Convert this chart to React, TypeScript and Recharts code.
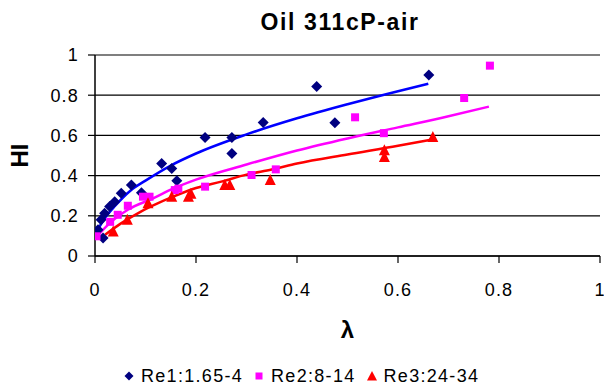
import React from 'react';
import {
  ComposedChart,
  Scatter,
  Line,
  XAxis,
  YAxis,
  CartesianGrid,
  Legend,
} from 'recharts';

const FONT = '"Liberation Sans", Arial, sans-serif';

const xTicks = [0, 0.2, 0.4, 0.6, 0.8, 1];
const yTicks = [0, 0.2, 0.4, 0.6, 0.8, 1];

// Re1:1.65-4 measured points
const re1Points = [
  { x: 0.006, y: 0.131 }, { x: 0.016, y: 0.09 }, { x: 0.012, y: 0.18 },
  { x: 0.019, y: 0.213 }, { x: 0.029, y: 0.246 }, { x: 0.039, y: 0.27 },
  { x: 0.052, y: 0.312 }, { x: 0.072, y: 0.353 }, { x: 0.092, y: 0.315 },
  { x: 0.132, y: 0.46 }, { x: 0.152, y: 0.435 }, { x: 0.162, y: 0.374 },
  { x: 0.218, y: 0.59 }, { x: 0.271, y: 0.59 }, { x: 0.271, y: 0.51 },
  { x: 0.333, y: 0.664 }, { x: 0.439, y: 0.843 }, { x: 0.475, y: 0.663 },
  { x: 0.661, y: 0.9 },
];

// Re2:8-14 measured points
const re2Points = [
  { x: 0.003, y: 0.098 }, { x: 0.03, y: 0.17 }, { x: 0.045, y: 0.205 },
  { x: 0.065, y: 0.25 }, { x: 0.095, y: 0.295 }, { x: 0.108, y: 0.295 },
  { x: 0.158, y: 0.328 }, { x: 0.165, y: 0.335 }, { x: 0.218, y: 0.345 },
  { x: 0.31, y: 0.403 }, { x: 0.358, y: 0.431 }, { x: 0.515, y: 0.69 },
  { x: 0.572, y: 0.611 }, { x: 0.731, y: 0.786 }, { x: 0.782, y: 0.947 },
];

// Re3:24-34 measured points
const re3Points = [
  { x: 0.036, y: 0.122 }, { x: 0.064, y: 0.18 }, { x: 0.105, y: 0.263 },
  { x: 0.152, y: 0.295 }, { x: 0.185, y: 0.295 }, { x: 0.19, y: 0.31 },
  { x: 0.257, y: 0.353 }, { x: 0.267, y: 0.353 }, { x: 0.347, y: 0.378 },
  { x: 0.573, y: 0.526 }, { x: 0.573, y: 0.493 }, { x: 0.669, y: 0.592 },
];

// trend lines
const re1Trend = [
  { x: 0.003, y: 0.12 }, { x: 0.02, y: 0.19 }, { x: 0.04, y: 0.25 },
  { x: 0.07, y: 0.325 }, { x: 0.1, y: 0.375 }, { x: 0.15, y: 0.45 },
  { x: 0.2, y: 0.51 }, { x: 0.3, y: 0.605 }, { x: 0.4, y: 0.685 },
  { x: 0.5, y: 0.755 }, { x: 0.6, y: 0.82 }, { x: 0.66, y: 0.857 },
];
const re2Trend = [
  { x: 0.005, y: 0.1 }, { x: 0.026, y: 0.156 }, { x: 0.065, y: 0.23 },
  { x: 0.118, y: 0.29 }, { x: 0.15, y: 0.33 }, { x: 0.2, y: 0.38 },
  { x: 0.3, y: 0.455 }, { x: 0.4, y: 0.525 }, { x: 0.5, y: 0.585 },
  { x: 0.6, y: 0.64 }, { x: 0.7, y: 0.695 }, { x: 0.78, y: 0.743 },
];
const re3Trend = [
  { x: 0.02, y: 0.106 }, { x: 0.05, y: 0.16 }, { x: 0.09, y: 0.22 },
  { x: 0.125, y: 0.263 }, { x: 0.15, y: 0.29 }, { x: 0.2, y: 0.338 },
  { x: 0.25, y: 0.37 }, { x: 0.3, y: 0.405 }, { x: 0.35, y: 0.43 },
  { x: 0.4, y: 0.46 }, { x: 0.5, y: 0.505 }, { x: 0.6, y: 0.548 },
  { x: 0.668, y: 0.58 },
];

const seriesNames = ['Re1:1.65-4', 'Re2:8-14', 'Re3:24-34'];
const markerColors = ['#000080', '#FF00FF', '#FF0000'];
const lineColors = ['#0000FF', '#FF00FF', '#FF0000'];

const DiamondShape = (p: any) => {
  const { cx, cy } = p;
  return (
    <polygon
      points={`${cx},${cy - 5.5} ${cx + 5.5},${cy} ${cx},${cy + 5.5} ${cx - 5.5},${cy}`}
      fill={markerColors[0]}
    />
  );
};
const SquareShape = (p: any) => {
  const { cx, cy } = p;
  return <rect x={cx - 4} y={cy - 4} width={8} height={8} fill={markerColors[1]} />;
};
const TriangleShape = (p: any) => {
  const { cx, cy } = p;
  return (
    <polygon
      points={`${cx},${cy - 6} ${cx + 5.5},${cy + 5} ${cx - 5.5},${cy + 5}`}
      fill={markerColors[2]}
    />
  );
};

const LegendIcon = ({ i }: { i: number }) => (
  <svg width={12} height={12} style={{ display: 'block' }}>
    {i === 0 && <polygon points="6,1.5 10.5,6 6,10.5 1.5,6" fill={markerColors[0]} />}
    {i === 1 && <rect x={2.5} y={2.5} width={7} height={7} fill={markerColors[1]} />}
    {i === 2 && <polygon points="6,1 11,10.5 1,10.5" fill={markerColors[2]} />}
  </svg>
);

const LegendContent = () => (
  <div
    style={{
      display: 'flex',
      alignItems: 'center',
      fontFamily: FONT,
      fontSize: 18,
      letterSpacing: 1.3,
      lineHeight: '18px',
      color: '#000',
      whiteSpace: 'nowrap',
    }}
  >
    {seriesNames.map((n, i) => (
      <div key={n} style={{ display: 'flex', alignItems: 'center', marginRight: 10 }}>
        <LegendIcon i={i} />
        <span style={{ marginLeft: 6 }}>{n}</span>
      </div>
    ))}
  </div>
);

const tickStyle = { fontFamily: FONT, fontSize: 18, letterSpacing: 1.2, fill: '#000' };

export default function App() {
  return (
    <div style={{ position: 'absolute', left: 0, top: 0, width: 604, height: 389, background: '#fff' }}>
      <div
        style={{
          position: 'absolute',
          left: 190,
          width: 300,
          top: 10.5,
          textAlign: 'center',
          fontFamily: FONT,
          fontWeight: 'bold',
          fontSize: 23,
          lineHeight: '23px',
          letterSpacing: 1.6,
          zIndex: 2,
        }}
      >
        Oil 311cP-air
      </div>
      <ComposedChart
        width={604}
        height={389}
        margin={{ top: 55, right: 4, bottom: 53, left: 0 }}
      >
        <CartesianGrid horizontal vertical={false} stroke="#000" strokeWidth={1.2} />
        <XAxis
          type="number"
          dataKey="x"
          domain={[0, 1]}
          ticks={xTicks}
          interval={0}
          height={80}
          axisLine={{ stroke: '#000', strokeWidth: 1.5 }}
          tickLine={{ stroke: '#000', strokeWidth: 1.2 }}
          tickSize={7}
          tickMargin={20}
          tick={tickStyle}
          allowDataOverflow
          label={{
            value: 'λ',
            position: 'insideBottom',
            offset: -2,
            style: { fontFamily: FONT, fontWeight: 'bold', fontSize: 24, fill: '#000' },
          }}
        />
        <YAxis
          type="number"
          dataKey="y"
          domain={[0, 1]}
          ticks={yTicks}
          interval={0}
          width={95}
          axisLine={{ stroke: '#000', strokeWidth: 1.5 }}
          tickLine={{ stroke: '#000', strokeWidth: 1.2 }}
          tickSize={7}
          tickMargin={9}
          tick={tickStyle}
          allowDataOverflow
          label={{
            value: 'HI',
            angle: -90,
            position: 'insideLeft',
            offset: 19,
            style: { fontFamily: FONT, fontWeight: 'bold', fontSize: 24, fill: '#000', textAnchor: 'middle' },
          }}
        />
        <Legend
          verticalAlign="middle"
          align="center"
          layout="horizontal"
          wrapperStyle={{ top: 367, left: 123, width: 440 }}
          content={() => <LegendContent />}
        />
        <Scatter name={seriesNames[0]} data={re1Points} fill={markerColors[0]} shape={DiamondShape} isAnimationActive={false} />
        <Scatter name={seriesNames[1]} data={re2Points} fill={markerColors[1]} shape={SquareShape} isAnimationActive={false} />
        <Scatter name={seriesNames[2]} data={re3Points} fill={markerColors[2]} shape={TriangleShape} isAnimationActive={false} />
        <Line data={re1Trend} dataKey="y" type="monotone" stroke={lineColors[0]} strokeWidth={2.5} dot={false} activeDot={false} legendType="none" isAnimationActive={false} />
        <Line data={re2Trend} dataKey="y" type="monotone" stroke={lineColors[1]} strokeWidth={2.5} dot={false} activeDot={false} legendType="none" isAnimationActive={false} />
        <Line data={re3Trend} dataKey="y" type="monotone" stroke={lineColors[2]} strokeWidth={2.5} dot={false} activeDot={false} legendType="none" isAnimationActive={false} />
      </ComposedChart>
    </div>
  );
}
